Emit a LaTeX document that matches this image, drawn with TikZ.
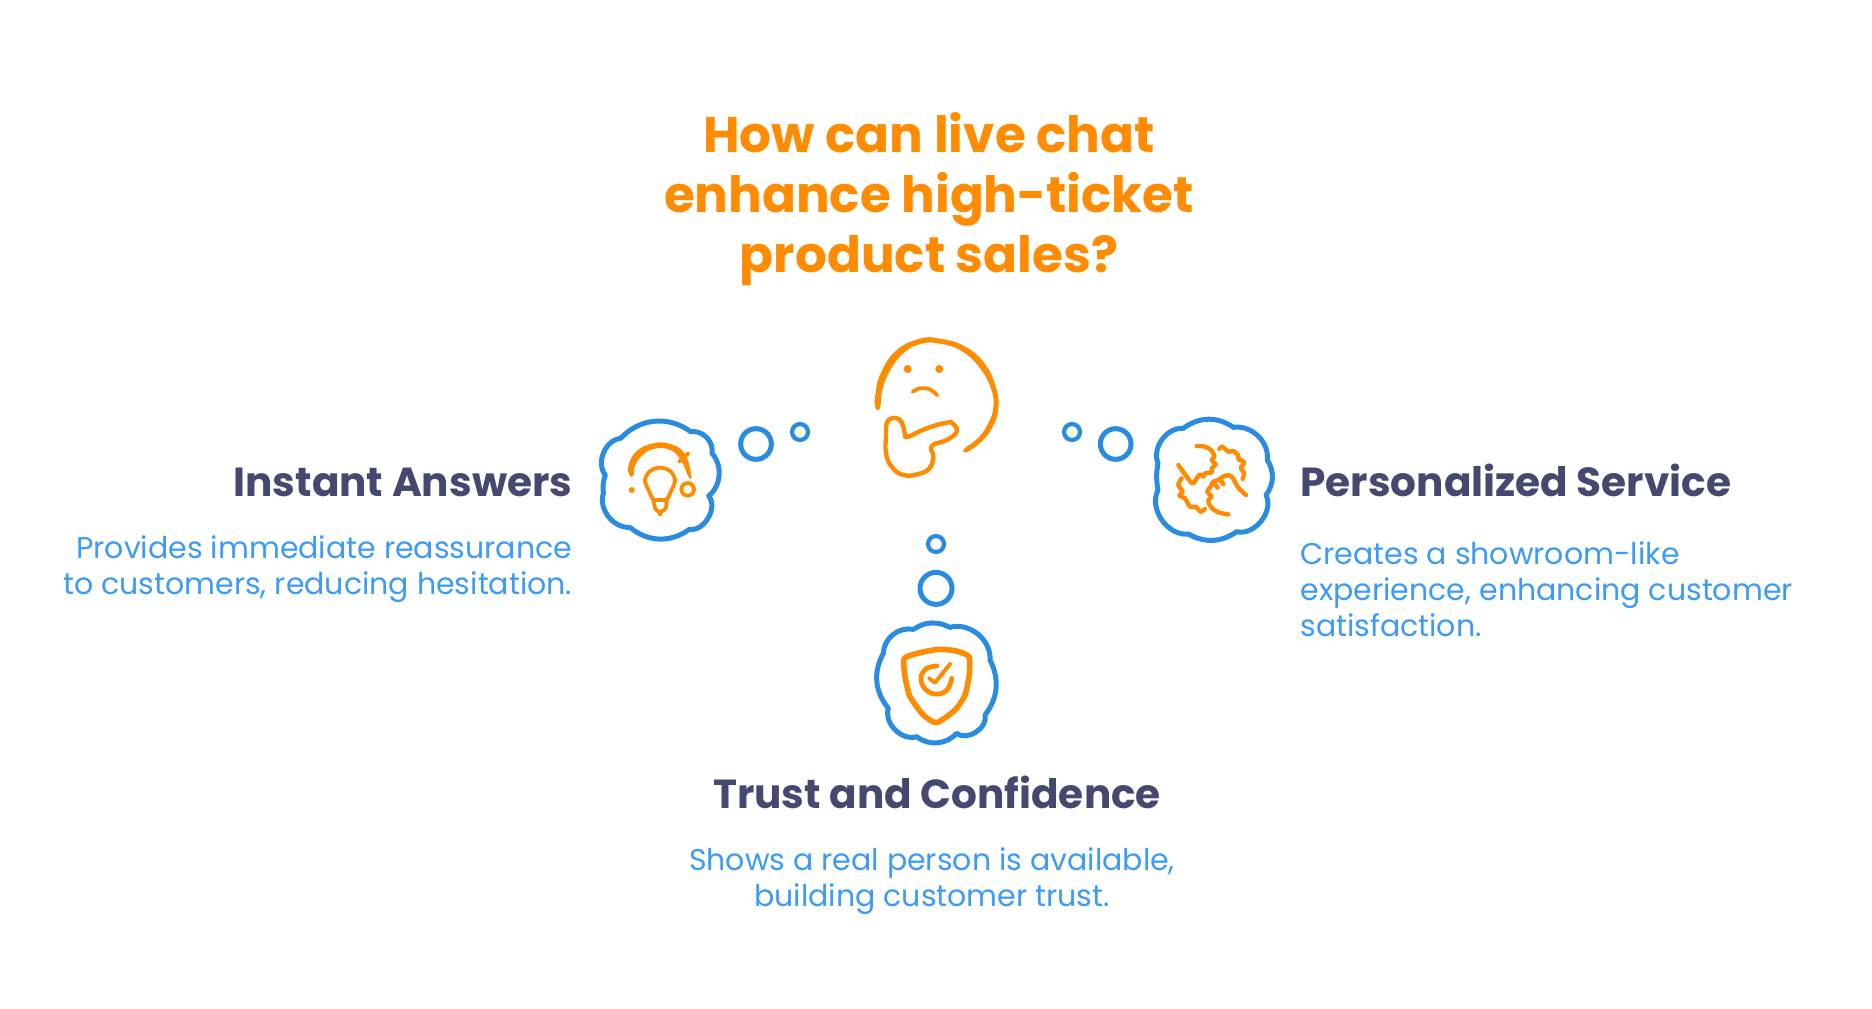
\documentclass[tikz,border=0pt]{standalone}
\usepackage{fontspec}
\setmainfont{Poppins}
\newfontfamily\titlefont{Poppins Bold}
\newfontfamily\headfont{Poppins Bold}
\newfontfamily\bodyfont{Poppins}
\definecolor{ichat}{HTML}{FF8C00}
\definecolor{cloudblue}{HTML}{2A8CE0}
\definecolor{bodyblue}{HTML}{3D9BF5}
\definecolor{headdark}{HTML}{46496F}
\tikzset{
  zoomed/.style={x=0.16667pt,y=-0.16667pt},
  cloudline/.style={draw=cloudblue,line width=2.5pt,line join=round,fill=none},
  bubbleA/.style={draw=cloudblue,line width=2.5pt,fill=none},
  bubbleB/.style={draw=cloudblue,line width=2.1pt,fill=none},
  ink/.style={draw=ichat,line width=1.9pt,line cap=round,line join=round,fill=none},
  inkfill/.style={fill=ichat,draw=none},
  smoothy/.style={smooth,tension=0.6},
  smoothc/.style={smooth cycle,tension=0.75},
  titletext/.style={inner sep=0pt,align=center,text=ichat,font=\titlefont\fontsize{25}{30}\selectfont},
  headtext/.style={inner sep=0pt,text=headdark,font=\headfont\fontsize{20.3}{24}\selectfont},
  bodytext/.style={inner sep=0pt,text=bodyblue,font=\bodyfont\fontsize{15}{18}\selectfont},
}
\begin{document}
\begin{tikzpicture}[x=0.5pt,y=-0.5pt]
\useasboundingbox (0,0) rectangle (1872,1008);
\fill[white] (0,0) rectangle (1872,1008);

% texts
\node[titletext,anchor=north] (title) at (929,112) {How can live chat\\enhance high-ticket\\product sales?};
\node[headtext,anchor=base east] (h1) at (572.6,496) {Instant Answers};
\node[headtext,anchor=base west] (h2) at (1300,496) {Personalized Service};
\node[headtext,anchor=base] (h3) at (937,808.5) {Trust and Confidence};
\node[bodytext,anchor=north east,align=right] (b1) at (572.6,535) {Provides immediate reassurance\\to customers, reducing hesitation.};
\node[bodytext,anchor=north west,align=left] (b2) at (1300,541) {Creates a showroom-like\\experience, enhancing customer\\satisfaction.};
\node[bodytext,anchor=north,align=center] (b3) at (932,847) {Shows a real person is available,\\building customer trust.};

% thinking face
\begin{scope}[shift={(840,320)},zoomed]
\path[inkfill] plot[smoothc] coordinates {(106,262)(106,225)(122,160)(168,92)(240,56)(300,56)(372,78)(432,128)(467,200)(475,265)(457,322)(422,367)(380,396)(373,386)(412,356)(443,313)(460,262)(453,206)(418,142)(363,92)(300,71)(245,71)(192,98)(150,152)(127,210)(120,264)};
\fill[ichat] (203,147) circle[radius=12];
\fill[ichat] (298,147) circle[radius=12];
\draw[ink] plot[smoothy] coordinates {(218,215)(240,205)(270,208)(292,226)};
\draw[ink,line width=2.2pt] plot[smoothc] coordinates {(190,320)(178,298)(155,295)(140,310)(138,345)(138,400)(155,440)(190,465)(235,462)(268,445)(280,410)(275,378)(320,360)(350,335)(340,312)(320,308)(260,325)(205,350)(195,345)};
\end{scope}

% left cloud
\begin{scope}[shift={(590,410)},zoomed]
\draw[cloudline] (92,85) to[bend left=42] (302,65) to[bend left=55] (366,130) to[bend left=45] (356,258) to[bend left=70] (298,358) to[bend left=38] (120,352) to[bend left=55] (40,250) to[bend left=12] (46,195) to[bend left=62] cycle;
\draw[bubbleA] (498,102) circle[radius=46];
\draw[bubbleB] (630,66) circle[radius=24];
\end{scope}
\begin{scope}[shift={(620,435)},zoomed]
\path[inkfill] plot[smoothc] coordinates {(28,120)(26,90)(50,48)(100,25)(150,27)(194,56)(214,122)(205,124)(182,74)(148,44)(100,42)(64,64)(44,95)(40,122)};
\draw[ink] (178,80) -- (205,55);
\draw[ink] plot[smoothy] coordinates {(100,195)(85,165)(75,135)(90,108)(120,98)(150,108)(165,135)(155,165)(140,195)};
\draw[ink] (100,195) -- (140,195);
\draw[ink] plot[smoothy] coordinates {(102,195)(105,220)(120,230)(137,220)(140,195)};
\draw[ink] (120,230) -- (120,238);
\draw[ink] (203,163) circle[radius=19];
\fill[ichat] (35,165) circle[radius=9];
\end{scope}

% right cloud
\begin{scope}[shift={(1050,410)},zoomed]
\draw[cloudline] (400,55) to[bend left=36] (550,52) to[bend left=52] (652,150) to[bend left=34] (648,255) to[bend left=65] (560,365) to[bend left=32] (415,372) to[bend left=62] (324,240) to[bend left=10] (324,160) to[bend left=58] cycle;
\draw[bubbleB] (66,66) circle[radius=24];
\draw[bubbleA] (197,102) circle[radius=46];
\end{scope}
\begin{scope}[shift={(1170,435)},zoomed]
\draw[ink,line width=2.2pt] plot[smoothy] coordinates {(80,33)(105,35)(125,47)(133,65)(125,75)(137,88)(125,100)(125,112)(105,115)(100,125)(90,118)(80,130)(68,145)(50,125)(25,90)};
\draw[ink,line width=2.2pt] plot[smoothy] coordinates {(148,42)(157,35)(175,50)(190,48)(205,62)(205,72)(222,82)(212,100)(222,112)(218,132)};
\draw[ink,line width=2.2pt] plot[smoothy] coordinates {(228,180)(205,158)(185,125)(165,122)(145,135)(130,140)(122,155)(112,170)(125,185)(115,195)(122,215)(145,232)(175,238)};
\draw[ink,line width=2.2pt] (150,132) -- (160,148);
\draw[ink,line width=2.2pt] (130,142) -- (143,158);
\draw[ink,line width=2.2pt] plot[smoothy] coordinates {(35,130)(25,150)(38,170)(28,182)(45,190)(60,215)(78,215)(90,230)(105,222)};
\end{scope}

% bottom cloud
\begin{scope}[shift={(860,530)},zoomed]
\draw[cloudline] (160,298) to[bend left=30] (270,292) to[bend left=55] (390,390) to[bend left=32] (375,555) to[bend left=72] (290,610) to[bend left=42] (170,620) to[bend left=62] (85,535) to[bend left=34] (70,370) to[bend left=50] cycle;
\draw[bubbleB] (228,42) circle[radius=24];
\draw[bubbleA] (228,175) circle[radius=48];
\end{scope}
\begin{scope}[shift={(895,640)},zoomed]
\draw[ink,line width=2.8pt] plot[tension=0.35,smooth cycle] coordinates {(28,55)(75,38)(130,28)(180,32)(222,50)(222,110)(210,165)(180,210)(125,248)(85,225)(45,170)(30,110)};
\draw[ink,line width=2.4pt] plot[smoothy] coordinates {(125,78)(95,85)(78,110)(85,140)(110,160)(140,160)(160,145)(170,115)};
\draw[ink,line width=2pt] (103,115) -- (120,128) -- (165,72);
\end{scope}
\end{tikzpicture}
\end{document}
